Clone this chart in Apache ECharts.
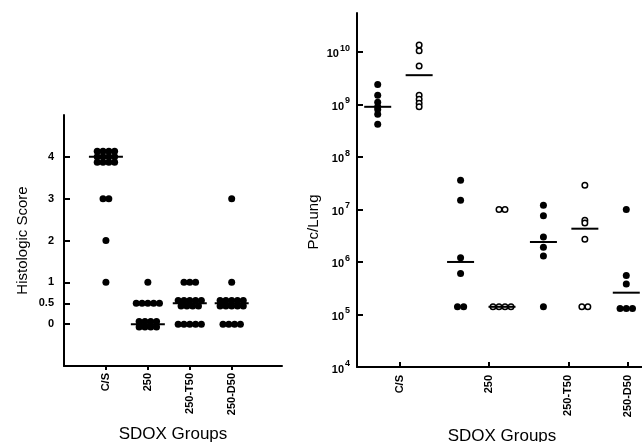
<!DOCTYPE html>
<html>
<head>
<meta charset="utf-8">
<script src="https://cdn.jsdelivr.net/npm/echarts@6/dist/echarts.min.js"></script>
<style>
  html, body { margin: 0; padding: 0; background: #fff; }
  #main { width: 642px; height: 442px; }
</style>
</head>
<body>
<div id="main"></div>
<script>
// categories
const groups = ['C/S', '250', '250-T50', '250-D50']

// left panel: histologic score per animal
const scoreCS = [4, 4, 4, 4, 4, 4, 4, 4, 4, 4, 4, 4, 3, 3, 2, 1]
const score250 = [1, 0.5, 0.5, 0.5, 0.5, 0.5, 0, 0, 0, 0, 0, 0, 0, 0]
const scoreT50 = [1, 1, 1, 0.5, 0.5, 0.5, 0.5, 0.5, 0.5, 0.5, 0.5, 0.5, 0, 0, 0, 0, 0]
const scoreD50 = [3, 1, 0.5, 0.5, 0.5, 0.5, 0.5, 0.5, 0.5, 0.5, 0.5, 0.5, 0, 0, 0, 0]
const scoreMedian = [4, 0, 0.5, 0.5]
const scoreTicks = [0, 0.5, 1, 2, 3, 4]

// right panel: Pc per lung, filled vs open symbols
const pcFilledCS = [2.4e9, 1.5e9, 1.1e9, 9e8, 8e8, 6.5e8, 4.2e8]
const pcFilled250 = [3.6e7, 1.5e7, 1.2e6, 6e5, 1.4e5, 1.4e5]
const pcFilledT50 = [1.2e7, 7.6e6, 3e6, 1.9e6, 1.3e6, 1.4e5]
const pcFilledD50 = [1e7, 5.5e5, 3.8e5, 1.3e5, 1.3e5, 1.3e5]
const pcOpenCS = [1.35e10, 1.05e10, 5.4e9, 1.5e9, 1.25e9, 1.05e9, 9e8]
const pcOpen250 = [1e7, 1e7, 1.4e5, 1.4e5, 1.4e5, 1.4e5]
const pcOpenT50 = [2.9e7, 6.2e6, 5.5e6, 2.7e6, 1.4e5, 1.4e5]
const pcFilledMean = [9e8, 1e6, 2.4e6, 2.6e5]
const pcOpenMean = [3.6e9, 1.4e5, 4.3e6]
const pcTicks = [1e4, 1e5, 1e6, 1e7, 1e8, 1e9, 1e10]

// where the group labels sit on the right x axis
const pcLabelPos = [0.52, 1.59, 2.55, 3.27]

const font = 'Liberation Sans, Arial, sans-serif'

// spread equal values side by side (and in rows when crowded)
function dotPlot(values, x, spacing, perRow, rowGap) {
  const counts = new Map()
  values.forEach(v => counts.set(v, (counts.get(v) || 0) + 1))
  const out = []
  counts.forEach((n, v) => {
    const rows = Math.ceil(n / perRow)
    const per = Math.ceil(n / rows)
    for (let i = 0; i < n; i++) {
      const r = Math.floor(i / per)
      const c = i % per
      const inRow = Math.min(per, n - r * per)
      out.push({
        value: [x, v],
        symbolOffset: [(c - (inRow - 1) / 2) * spacing, (r - (rows - 1) / 2) * rowGap]
      })
    }
  })
  return out
}

const scoreGroups = [scoreCS, score250, scoreT50, scoreD50]
const leftDots = []
scoreGroups.forEach((g, i) => leftDots.push(...dotPlot(g, i + 1, 5.8, 5, 5.5)))
const leftMedians = scoreMedian.map((m, i) => [i + 1, m])

const filledGroups = [pcFilledCS, pcFilled250, pcFilledT50, pcFilledD50]
const openGroups = [pcOpenCS, pcOpen250, pcOpenT50]
const rightFilled = []
filledGroups.forEach((g, i) => rightFilled.push(...dotPlot(g, i + 0.25, 6.2, 10, 0)))
const rightOpen = []
openGroups.forEach((g, i) => rightOpen.push(...dotPlot(g, i + 0.75, 6, 10, 0)))
const rightMeans = pcFilledMean.map((m, i) => [i + 0.25, m])
  .concat(pcOpenMean.map((m, i) => [i + 0.75, m]))

const axisLine = { show: true, onZero: false, lineStyle: { color: '#000', width: 2 } }
const tickStyle = { color: '#000', width: 2 }

const chart = echarts.init(document.getElementById('main'))
chart.setOption({
  animation: false,
  backgroundColor: '#fff',
  textStyle: { fontFamily: font, color: '#000' },
  grid: [
    { left: 64, top: 115, width: 218, height: 251, outerBoundsMode: 'none' },
    { left: 357, top: 13, width: 290, height: 354, outerBoundsMode: 'none' }
  ],
  xAxis: [
    {
      gridIndex: 0,
      type: 'value',
      min: 0,
      max: 5.2,
      splitLine: { show: false },
      axisLine: axisLine,
      axisTick: { show: true, inside: false, length: 4, lineStyle: tickStyle, customValues: [1, 2, 3, 4] },
      axisLabel: {
        customValues: [1, 2, 3, 4],
        formatter: v => groups[Math.round(v) - 1],
        rotate: 90,
        margin: 7,
        fontSize: 11,
        fontWeight: 'bold',
        color: '#000',
        fontFamily: font
      },
      name: 'SDOX Groups',
      nameLocation: 'middle',
      nameGap: 60,
      nameTextStyle: { fontSize: 17, color: '#000', fontFamily: font }
    },
    {
      gridIndex: 1,
      type: 'value',
      min: 0,
      max: 3.5,
      splitLine: { show: false },
      axisLine: axisLine,
      axisTick: { show: true, inside: true, length: 5, lineStyle: tickStyle, customValues: pcLabelPos },
      axisLabel: {
        customValues: pcLabelPos,
        formatter: v => groups[pcLabelPos.indexOf(v)],
        rotate: 90,
        margin: 8,
        fontSize: 11,
        fontWeight: 'bold',
        color: '#000',
        fontFamily: font
      },
      name: 'SDOX Groups',
      nameLocation: 'middle',
      nameGap: 61,
      nameTextStyle: { fontSize: 17, color: '#000', fontFamily: font }
    }
  ],
  yAxis: [
    {
      gridIndex: 0,
      type: 'value',
      min: -1,
      max: 5,
      splitLine: { show: false },
      axisLine: axisLine,
      axisTick: { show: true, inside: true, length: 6, lineStyle: tickStyle, customValues: scoreTicks },
      axisLabel: {
        customValues: scoreTicks,
        margin: 10,
        fontSize: 11,
        fontWeight: 'bold',
        color: '#000',
        fontFamily: font
      },
      name: 'Histologic Score',
      nameLocation: 'middle',
      nameGap: 34,
      nameTextStyle: { fontSize: 15, color: '#000', fontFamily: font }
    },
    {
      gridIndex: 1,
      type: 'log',
      logBase: 10,
      min: 1e4,
      max: 5.5e10,
      splitLine: { show: false },
      axisLine: axisLine,
      axisTick: { show: true, inside: true, length: 6, lineStyle: tickStyle, customValues: pcTicks },
      axisLabel: {
        customValues: pcTicks,
        margin: 7,
        color: '#000',
        formatter: v => '{b|10}{s|' + Math.round(Math.log10(v)) + '}',
        rich: {
          b: { fontSize: 11, fontWeight: 'bold', fontFamily: font, color: '#000', verticalAlign: 'bottom' },
          s: { fontSize: 9, fontWeight: 'bold', fontFamily: font, color: '#000', padding: [0, 0, 7, 1], verticalAlign: 'bottom' }
        }
      }
    }
  ],
  graphic: [
    {
      type: 'text',
      x: 314,
      y: 222,
      rotation: Math.PI / 2,
      style: {
        text: 'Pc/Lung',
        fontSize: 15,
        fontFamily: font,
        fill: '#000',
        align: 'center',
        verticalAlign: 'middle'
      }
    }
  ],
  series: [
    {
      type: 'scatter',
      xAxisIndex: 0,
      yAxisIndex: 0,
      symbol: 'circle',
      symbolSize: 7,
      itemStyle: { color: '#000', opacity: 1 },
      data: leftDots
    },
    {
      type: 'scatter',
      xAxisIndex: 0,
      yAxisIndex: 0,
      symbol: 'rect',
      symbolSize: [34, 2],
      itemStyle: { color: '#000', opacity: 1 },
      data: leftMedians
    },
    {
      type: 'scatter',
      xAxisIndex: 1,
      yAxisIndex: 1,
      symbol: 'circle',
      symbolSize: 7,
      itemStyle: { color: '#000', opacity: 1 },
      data: rightFilled
    },
    {
      type: 'scatter',
      xAxisIndex: 1,
      yAxisIndex: 1,
      symbol: 'circle',
      symbolSize: 5.5,
      itemStyle: { color: '#fff', borderColor: '#000', borderWidth: 1.5, opacity: 1 },
      data: rightOpen
    },
    {
      type: 'scatter',
      xAxisIndex: 1,
      yAxisIndex: 1,
      symbol: 'rect',
      symbolSize: [27, 2],
      itemStyle: { color: '#000', opacity: 1 },
      data: rightMeans
    }
  ]
})
</script>
</body>
</html>
